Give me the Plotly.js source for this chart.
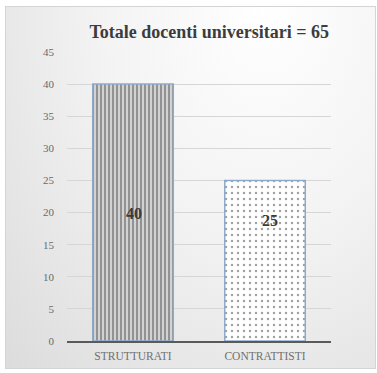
<!DOCTYPE html>
<html>
<head>
<meta charset="utf-8">
<script src="https://cdn.plot.ly/plotly-3.0.1.min.js"></script>
<style>
  html, body { margin: 0; padding: 0; background: #ffffff; }
  #wrap { position: relative; width: 377px; height: 373px; overflow: hidden; }
  #frame {
    position: absolute; left: 5px; top: 6px; width: 369px; height: 361px;
    border: 1px solid #d4d4d4;
    background: radial-gradient(ellipse at 70% 0%, #ffffff 0%, #f3f3f3 45%, #dcdcdc 100%);
  }
  #chart { position: absolute; left: 0; top: 0; width: 377px; height: 373px; }
</style>
</head>
<body>
<div id="wrap">
  <div id="frame"></div>
  <div id="chart"></div>
</div>
<script>
// Docenti universitari per tipologia
const categories = ['STRUTTURATI', 'CONTRATTISTI'];
const docenti = [40, 25];
const titleText = 'Totale docenti universitari = 65';
const yTicks = [0, 5, 10, 15, 20, 25, 30, 35, 40, 45];

const serif = '"Liberation Serif", "DejaVu Serif", serif';

const trace = {
  type: 'bar',
  x: categories,
  y: docenti,
  marker: {
    color: ['#d2d2d2', '#ffffff'],
    line: { color: '#8eaacb', width: 1.5 },
    pattern: {
      shape: ['|', '.'],
      fgcolor: ['#3a3a3a', '#909090'],
      bgcolor: ['#d8d8d8', '#ffffff'],
      size: [4, 6],
      solidity: [0.45, 0.14],
      fillmode: 'overlay'
    }
  },
  hoverinfo: 'none'
};

// value labels sitting inside the bars
const labelY = [19.9, 18.8];
const annotations = categories.map((c, i) => ({
  x: c, y: labelY[i], xref: 'x', yref: 'y',
  text: String(docenti[i]), showarrow: false,
  xshift: i === 0 ? 1 : 5,
  font: { family: serif, size: 16, color: '#3a3a3a', weight: 'bold' }
}));

const layout = {
  width: 377, height: 373,
  margin: { l: 67, r: 46, t: 52, b: 32 },
  paper_bgcolor: 'rgba(0,0,0,0)',
  plot_bgcolor: 'rgba(0,0,0,0)',
  bargap: 0.39,
  showlegend: false,
  title: {
    text: titleText,
    font: { family: serif, size: 18, color: '#3c3c3c', weight: 'bold' },
    x: 0.555, xanchor: 'center', y: 0.915, yanchor: 'middle'
  },
  xaxis: {
    type: 'category',
    showgrid: false,
    showline: true, linecolor: '#5a5a5a', linewidth: 1.5,
    ticks: '', ticklabelstandoff: 4,
    tickfont: { family: serif, size: 11.5, color: '#707070' },
    fixedrange: true
  },
  yaxis: {
    range: [0, 45],
    tickvals: yTicks,
    ticktext: yTicks.map(String),
    showgrid: true, gridcolor: '#d6d6d6', gridwidth: 1,
    zeroline: false, showline: false,
    ticks: '', ticklabelstandoff: 12,
    tickfont: { family: serif, size: 11, color: '#6a6a6a' },
    fixedrange: true
  },
  annotations: annotations
};

Plotly.newPlot('chart', [trace], layout, { displayModeBar: false, staticPlot: true });
</script>
</body>
</html>
